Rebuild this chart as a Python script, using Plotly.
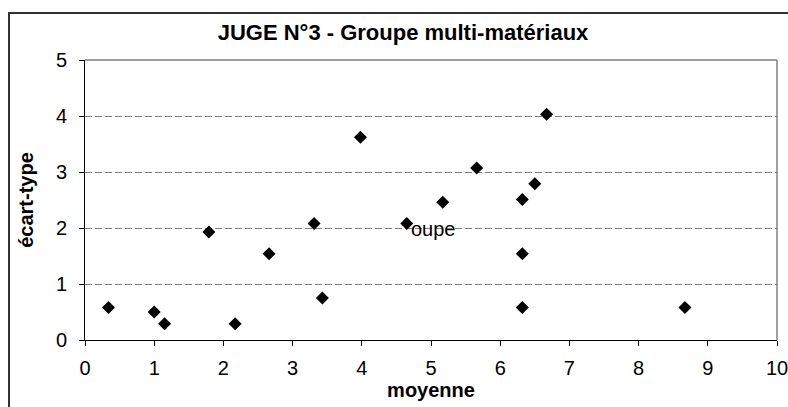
import plotly.graph_objects as go

# Data
moyenne = [0.34, 1.00, 1.15, 2.17, 3.43, 6.32, 8.67, 1.79, 2.66, 3.31, 3.98,
           4.65, 5.17, 5.66, 6.32, 6.50, 6.32, 6.67]
ecart_type = [0.58, 0.50, 0.29, 0.29, 0.75, 0.58, 0.58, 1.93, 1.54, 2.08, 3.62,
              2.08, 2.46, 3.07, 2.51, 2.79, 1.54, 4.03]
x_ticks = [0, 1, 2, 3, 4, 5, 6, 7, 8, 9, 10]
y_ticks = [0, 1, 2, 3, 4, 5]

FONT = "Liberation Sans, Arial, sans-serif"
TOP = (340 - 13) / 280
LEFT = (9 - 85) / 692
RIGHT = (788 - 85) / 692

fig = go.Figure()
fig.add_trace(go.Scatter(
    x=moyenne, y=ecart_type, mode="markers",
    marker=dict(symbol="diamond", size=10, color="black", line=dict(width=0)),
    showlegend=False, cliponaxis=False,
))

fig.update_layout(
    width=788, height=407,
    margin=dict(l=85, r=11, t=60, b=67, autoexpand=False),
    paper_bgcolor="white", plot_bgcolor="white",
    font=dict(family=FONT, color="black", size=20),
    title=dict(text="<b>JUGE N°3 - Groupe multi-matériaux</b>",
               font=dict(family=FONT, size=22, color="black"),
               x=403 / 788, xanchor="center", xref="container",
               y=1 - 32 / 407, yanchor="middle", yref="container"),
    xaxis=dict(range=[0, 10], tickvals=x_ticks, showgrid=False, zeroline=False,
               showline=True, linecolor="black", linewidth=1, automargin=False,
               ticks="outside", ticklen=5, tickcolor="black",
               tickfont=dict(size=20), ticklabelstandoff=5,
               ticklabeloverflow="allow",
               title=dict(text="<b>moyenne</b>", font=dict(size=20), standoff=0)),
    yaxis=dict(range=[0, 5], tickvals=y_ticks, showgrid=True, gridcolor="#808080",
               griddash="7px,3px", gridwidth=1, zeroline=False, automargin=False,
               showline=True, linecolor="black", linewidth=1,
               ticks="outside", ticklen=5, tickcolor="black",
               tickfont=dict(size=20), ticklabelstandoff=8,
               title=dict(text="<b>écart-type</b>", font=dict(size=20), standoff=16)),
    shapes=[
        # top and right plot borders (gray)
        dict(type="line", xref="paper", yref="paper", x0=0, x1=1, y0=1, y1=1,
             line=dict(color="#808080", width=1.5), layer="above"),
        dict(type="line", xref="paper", yref="paper", x0=1, x1=1, y0=0, y1=1,
             line=dict(color="#808080", width=1.5), layer="above"),
        # outer chart border (top and left edges)
        dict(type="line", xref="paper", yref="paper",
             x0=LEFT, x1=RIGHT, y0=TOP, y1=TOP,
             line=dict(color="#333333", width=2)),
        dict(type="line", xref="paper", yref="paper",
             x0=LEFT, x1=LEFT, y0=-0.24, y1=TOP,
             line=dict(color="#333333", width=2)),
    ],
    annotations=[
        # outer chart frame drawn as a bordered box running past the right/bottom edges
        dict(text=" ", xref="paper", yref="paper", x=LEFT - 0.0015, y=TOP + 0.0036,
             xanchor="left", yanchor="top", width=820, height=430,
             bordercolor="#333333", borderwidth=2, borderpad=0, showarrow=False),
        dict(text="oupe", x=5.03, y=1.98, xref="x", yref="y", showarrow=False,
             font=dict(size=20, color="black"), xanchor="center", yanchor="middle"),
    ],
)

fig.write_html("out.html", config={"displayModeBar": False},
               post_script="document.body.style.margin='0';document.body.style.overflow='hidden';")
